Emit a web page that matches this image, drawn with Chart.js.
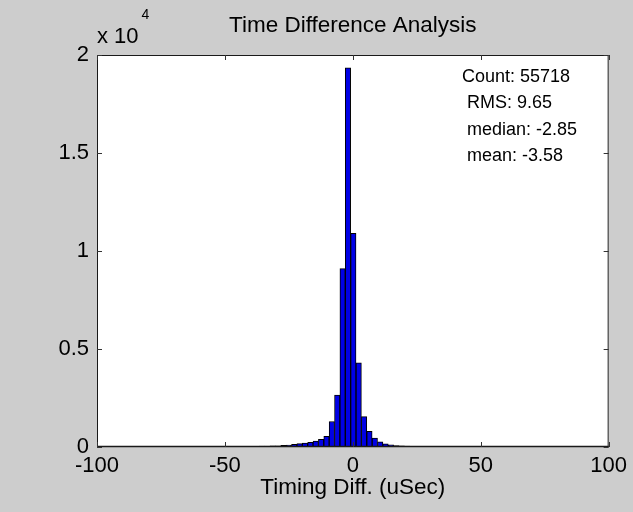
<!DOCTYPE html>
<html>
<head>
<meta charset="utf-8">
<script src="https://cdn.jsdelivr.net/npm/chart.js@4.4.1/dist/chart.umd.min.js"></script>
<style>
  html, body { margin: 0; padding: 0; background: #cdcdcd; }
  #wrap { width: 633px; height: 512px; }
</style>
</head>
<body>
<div id="wrap"><canvas id="c" width="633" height="512"></canvas></div>
<script>
// ---- data ----
const chartTitle = 'Time Difference Analysis';
const xAxisTitle = 'Timing Diff. (uSec)';
const binCenters = [
  -98.5, -96.4, -94.3, -92.2, -90.1, -88.0, -85.9, -83.8, -81.7, -79.6,
  -77.5, -75.4, -73.3, -71.2, -69.1, -67.0, -64.9, -62.8, -60.7, -58.6,
  -56.5, -54.4, -52.3, -50.2, -48.1, -46.0, -43.9, -41.8, -39.7, -37.6,
  -35.5, -33.4, -31.3, -29.2, -27.1, -25.0, -22.9, -20.8, -18.7, -16.6,
  -14.5, -12.4, -10.3, -8.2, -6.1, -4.0, -1.9, 0.2, 2.3, 4.4,
  6.5, 8.6, 10.7, 12.8, 14.9, 17.0, 19.1, 21.2, 23.3, 25.4,
  27.5, 29.6, 31.7, 33.8, 35.9, 38.0, 40.1, 42.2, 44.3, 46.4,
  48.5, 50.6, 52.7, 54.8, 56.9, 59.0, 61.1, 63.2, 65.3, 67.4,
  69.5, 71.6, 73.7, 75.8, 77.9, 80.0, 82.1, 84.2, 86.3, 88.4,
  90.5, 92.6, 94.7, 96.8, 98.9
];
const counts = [
  6, 5, 7, 6, 8, 7, 8, 9, 8, 10,
  9, 11, 10, 12, 13, 12, 14, 15, 16, 17,
  19, 20, 22, 24, 25, 27, 29, 31, 34, 37,
  41, 46, 55, 65, 80, 100, 130, 170, 200, 240,
  300, 390, 540, 1300, 2650, 9100, 19350, 10900, 4300, 1550,
  800, 450, 270, 160, 105, 75, 58, 47, 40, 35,
  31, 28, 25, 23, 21, 19, 17, 16, 15, 14,
  13, 12, 11, 11, 10, 9, 9, 8, 8, 7,
  7, 6, 6, 6, 5, 5, 5, 4, 4, 4,
  4, 3, 3, 3, 3
];
const xTickValues = [-100, -50, 0, 50, 100];
const yTickValues = [0, 5000, 10000, 15000, 20000];
const yTickLabels = ['0', '0.5', '1', '1.5', '2'];
const yExponentBase = 'x 10';
const yExponent = '4';
const statsLines = ['Count: 55718', 'RMS: 9.65', 'median: -2.85', 'mean: -3.58'];

// ---- styling ----
const FONT = "'Liberation Sans', Arial, Helvetica, sans-serif";
const BG = '#cdcdcd';

const matlabFrame = {
  id: 'matlabFrame',
  beforeDraw(chart) {
    const { ctx, chartArea: a } = chart;
    ctx.save();
    ctx.fillStyle = BG;
    ctx.fillRect(0, 0, chart.width, chart.height);
    ctx.fillStyle = '#ffffff';
    ctx.fillRect(a.left, a.top, a.right - a.left, a.bottom - a.top);
    ctx.restore();
  },
  afterDraw(chart) {
    const { ctx, chartArea: a, scales } = chart;
    ctx.save();
    // box
    ctx.strokeStyle = '#1a1a1a';
    ctx.lineWidth = 1;
    ctx.strokeRect(a.left + 0.5, a.top + 0.5, a.right - a.left - 1, a.bottom - a.top - 1);
    ctx.lineWidth = 1.5;
    ctx.beginPath();
    ctx.moveTo(a.left, a.bottom - 0.5);
    ctx.lineTo(a.right, a.bottom - 0.5);
    ctx.stroke();
    // inward ticks
    ctx.lineWidth = 1;
    ctx.strokeStyle = '#333';
    const tl = 5;
    ctx.beginPath();
    xTickValues.forEach(v => {
      const px = Math.round(scales.x.getPixelForValue(v)) + 0.5;
      ctx.moveTo(px, a.bottom); ctx.lineTo(px, a.bottom - tl);
      ctx.moveTo(px, a.top); ctx.lineTo(px, a.top + tl);
    });
    yTickValues.forEach(v => {
      const py = Math.round(scales.y.getPixelForValue(v)) + 0.5;
      ctx.moveTo(a.left, py); ctx.lineTo(a.left + tl, py);
      ctx.moveTo(a.right, py); ctx.lineTo(a.right - tl, py);
    });
    ctx.stroke();
    // exponent label
    ctx.fillStyle = '#000';
    ctx.textBaseline = 'alphabetic';
    ctx.textAlign = 'left';
    ctx.font = '22px ' + FONT;
    ctx.fillText(yExponentBase, a.left, 43);
    const w = ctx.measureText(yExponentBase).width;
    ctx.font = '14px ' + FONT;
    ctx.fillText(yExponent, a.left + w + 3, 19);
    // stats
    ctx.font = '18px ' + FONT;
    ctx.textBaseline = 'middle';
    const sy = [77, 103, 130, 156];
    statsLines.forEach((t, i) => {
      ctx.fillText(t, i === 0 ? 462 : 467, sy[i]);
    });
    ctx.restore();
  }
};

new Chart(document.getElementById('c'), {
  type: 'bar',
  data: {
    datasets: [{
      data: binCenters.map((x, i) => ({ x: x, y: counts[i] })),
      backgroundColor: '#0000e6',
      borderColor: '#000000',
      borderWidth: 1,
      borderSkipped: false,
      barPercentage: 1.0,
      categoryPercentage: 1.0
    }]
  },
  options: {
    responsive: false,
    animation: false,
    devicePixelRatio: 1,
    layout: { padding: { left: 0, right: 22, top: 0, bottom: 0 } },
    plugins: {
      legend: { display: false },
      tooltip: { enabled: false },
      title: {
        display: true,
        fullSize: false,
        text: chartTitle,
        color: '#000',
        font: { family: FONT, size: 22.5, weight: 'normal' },
        padding: { top: 12, bottom: 16 }
      }
    },
    scales: {
      x: {
        type: 'linear',
        min: -100, max: 100,
        offset: false,
        afterBuildTicks(s) { s.ticks = xTickValues.map(v => ({ value: v })); },
        ticks: {
          color: '#000',
          font: { family: FONT, size: 22 },
          padding: 6,
          maxRotation: 0,
          autoSkip: false
        },
        grid: { display: false, drawTicks: false, offset: false },
        border: { display: false },
        title: {
          display: true,
          text: xAxisTitle,
          color: '#000',
          font: { family: FONT, size: 22.5 },
          padding: { top: 0, bottom: 11 }
        },
        afterFit(s) { s.height = 65; }
      },
      y: {
        min: 0, max: 20000,
        afterBuildTicks(s) { s.ticks = yTickValues.map(v => ({ value: v })); },
        ticks: {
          color: '#000',
          font: { family: FONT, size: 22 },
          padding: 8,
          callback: (v) => { const i = yTickValues.indexOf(v); return i >= 0 ? yTickLabels[i] : ''; }
        },
        grid: { display: false, drawTicks: false },
        border: { display: false },
        afterFit(s) { s.width = 97; }
      }
    }
  },
  plugins: [matlabFrame]
});
</script>
</body>
</html>
